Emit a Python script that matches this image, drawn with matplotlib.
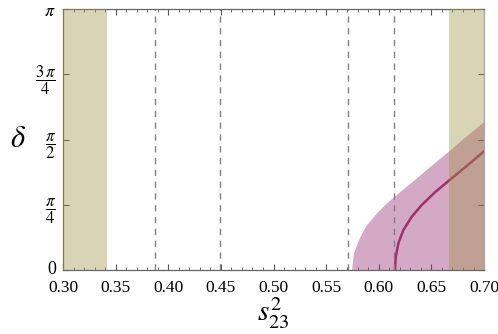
import numpy as np
import matplotlib
matplotlib.use("Agg")
import matplotlib.pyplot as plt
from matplotlib.ticker import MultipleLocator
from matplotlib.transforms import ScaledTranslation

plt.rcParams['font.family'] = ['Liberation Serif', 'DejaVu Serif']
plt.rcParams['mathtext.fontset'] = 'stix'

# excluded bands in s23^2
band_lo = (0.30, 0.3418)
band_hi = (0.6667, 0.70)

# dashed reference values
vlines = [0.3874, 0.449, 0.5708, 0.6145]

# upper edge of the allowed (pink) region, delta in units of pi
reg_x = [0.5743, 0.5746, 0.5758, 0.5806, 0.5869, 0.5964, 0.6059, 0.6154, 0.6313, 0.6471, 0.6670, 0.6819, 0.7000]
reg_y = [0.000, 0.020, 0.064, 0.115, 0.166, 0.212, 0.252, 0.285, 0.338, 0.392, 0.458, 0.510, 0.570]

# central curve, delta in units of pi
cur_x = [0.6154, 0.6161, 0.6186, 0.6233, 0.6313, 0.6408, 0.6534, 0.6670, 0.6819, 0.7000]
cur_y = [0.000, 0.051, 0.102, 0.153, 0.204, 0.249, 0.298, 0.344, 0.393, 0.455]

fig = plt.figure(figsize=(4.98, 3.34), dpi=100)
ax = fig.add_axes([0.1265, 0.1916, 0.8455, 0.7814])

ax.fill_between(reg_x, 0, np.array(reg_y) * np.pi, color='#D4A9C6', lw=0, zorder=1)
ax.plot(cur_x, np.array(cur_y) * np.pi, color='#9E2F6A', lw=1.8, zorder=2)

for b in (band_lo, band_hi):
    ax.axvspan(b[0], b[1], color='#A09448', alpha=0.4, lw=0, zorder=3)

for v in vlines:
    ax.axvline(v, color='#808080', ls=(0, (4.5, 4)), lw=1.0, zorder=2)

ax.set_xlim(0.30, 0.70)
ax.set_ylim(0, np.pi)

xt = np.arange(0.30, 0.7001, 0.05)
ax.set_xticks(xt)
ax.set_xticklabels(['%.2f' % t for t in xt])
ax.xaxis.set_minor_locator(MultipleLocator(0.01))

yt = [0, np.pi/4, np.pi/2, 3*np.pi/4, np.pi]
ax.set_yticks(yt)
ylabs = ax.set_yticklabels(['0', r'$\dfrac{\pi}{4}$', r'$\dfrac{\pi}{2}$',
                            r'$\dfrac{3\,\pi}{4}$', r'$\pi$'])

ax.tick_params(which='both', direction='in', top=True, right=True, color='#555555')
ax.tick_params(which='major', length=4, width=0.8)
ax.tick_params(which='minor', length=2.5, width=0.6)
ax.tick_params(axis='x', labelsize=12.5, pad=7)
ax.tick_params(axis='y', pad=5)
for i, t in enumerate(ylabs):
    if i == 0:
        t.set_fontsize(13)
        t.set_transform(t.get_transform() + ScaledTranslation(0, 2/72, fig.dpi_scale_trans))
    elif i == 4:
        t.set_fontsize(13)
    else:
        t.set_fontsize(12)

for s in ax.spines.values():
    s.set_color('#666666')
    s.set_linewidth(0.9)
ax.spines['right'].set_color('#AAAAAA')

ax.set_xlabel(r'$s_{23}^2$', fontsize=21, labelpad=0)
ax.set_ylabel(r'$\delta$', fontsize=22, rotation=0, labelpad=12, va='center')

fig.savefig('out.png', dpi=100)
